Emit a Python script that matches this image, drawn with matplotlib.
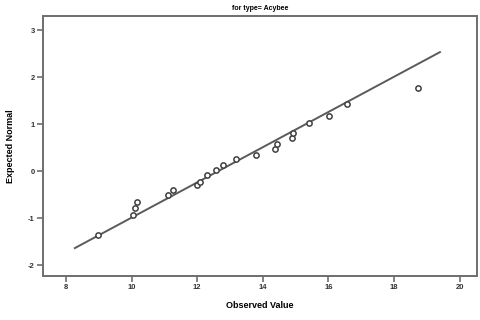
import numpy as np
import matplotlib as mpl
mpl.use('Agg')
import matplotlib.pyplot as plt

plt.rcParams['font.family'] = ['Liberation Sans', 'DejaVu Sans']
plt.rcParams['axes.unicode_minus'] = False

# observed values and their expected normal scores
observed = [8.98, 10.04, 10.10, 10.16, 11.11, 11.26, 11.99, 12.08, 12.30, 12.57,
            12.79, 13.18, 13.79, 14.37, 14.43, 14.89, 14.92, 15.41, 16.02, 16.57, 18.73]
expected = [-1.36, -0.94, -0.79, -0.66, -0.51, -0.40, -0.30, -0.23, -0.09, 0.02,
            0.13, 0.26, 0.34, 0.47, 0.57, 0.70, 0.81, 1.02, 1.17, 1.43, 1.77]

# reference line: expected = (x - mean) / sd
mean = 12.64
sd = 2.67
line_x = [8.27, 19.40]

xticks = [8, 10, 12, 14, 16, 18, 20]
yticks = [-2, -1, 0, 1, 2, 3]

gray = '#6e6e6e'

fig = plt.figure(figsize=(4.81, 3.2), dpi=100)
ax = fig.add_axes([0.0894, 0.1375, 0.9023, 0.8125])

lx = np.array(line_x)
ax.plot(lx, (lx - mean) / sd, color='#5a5a5a', lw=1.4)
ax.plot(observed, expected, 'o', ms=3.8, mfc='white', mec='#404040', mew=1.1)

ax.set_xlim(7.3, 20.53)
ax.set_ylim(-2.23, 3.3)
ax.set_xticks(xticks)
ax.set_yticks(yticks)
ax.tick_params(direction='out', length=4, width=1.2, color=gray,
               labelsize=5.5, labelcolor='#333333', pad=2)
for lab in ax.get_xticklabels() + ax.get_yticklabels():
    lab.set_fontweight('bold')
for s in ax.spines.values():
    s.set_color(gray)
    s.set_linewidth(1.4)

ax.set_xlabel("Observed Value", fontsize=6.5, fontweight='bold', labelpad=7)
ax.set_ylabel("Expected Normal", fontsize=6.5, fontweight='bold', labelpad=9)
ax.set_title("for type= Acybee", fontsize=5, fontweight='bold', pad=4)

plt.savefig("out.png", dpi=100)
